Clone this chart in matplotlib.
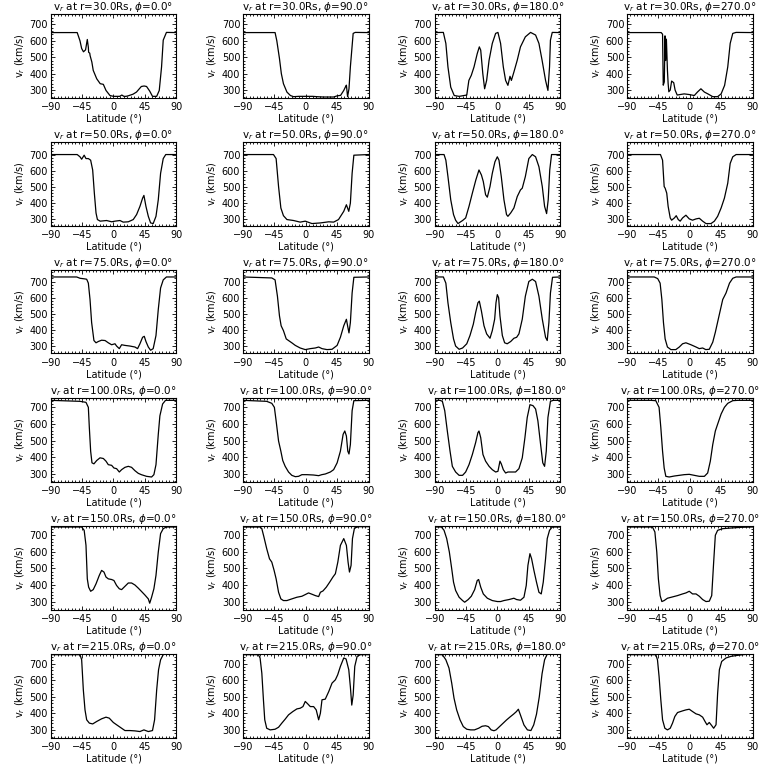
import matplotlib
matplotlib.use("Agg")
import matplotlib.pyplot as plt
from matplotlib.ticker import MultipleLocator

plt.rcParams['font.family'] = ['Liberation Sans Narrow', 'DejaVu Sans']
plt.rcParams['mathtext.fontset'] = 'dejavusans'

radii = [30.0, 50.0, 75.0, 100.0, 150.0, 215.0]
phis = [0.0, 90.0, 180.0, 270.0]
ylims = [(255, 763), (259, 778), (256, 771), (255, 756), (252, 756), (254, 759)]
xticks = [-90, -45, 0, 45, 90]
yticks = [300, 400, 500, 600, 700]

# r = 30 Rs
lat_30_0 = [-90, -52, -48, -45.6, -43, -40, -37.5, -36, -35.6, -34, -33.5, -31, -29, -24, -19, -14.5, -10.7, -5, 0, 5, 9, 12, 15, 18, 21, 28, 33, 40, 44, 47.5, 52, 56, 62, 65.7, 69, 71.4, 76, 90]
v_30_0 = [650, 650, 600, 553, 533, 545, 608, 560, 530, 525, 510, 471, 420, 369, 339, 335, 298, 267, 262, 262, 262, 270, 262, 262, 265, 275, 288, 322, 325, 322, 294, 262, 262, 298, 441, 604, 651, 650]
lat_30_90 = [-90, -44, -41.5, -37.7, -35, -32, -27, -22, -17.5, -10, 0, 10, 16, 25, 40, 45, 50, 54.5, 57, 58.3, 60, 62, 64, 68, 71, 90]
v_30_90 = [650, 650, 600, 492, 400, 339, 288, 267, 260, 262, 262, 262, 260, 258, 258, 265, 268, 298, 320, 330, 260, 308, 441, 645, 651, 650]
lat_30_180 = [-90, -77.6, -74, -71, -67, -62, -55, -48, -44, -41, -37.5, -33.6, -29, -26, -24, -21, -18.4, -15.5, -12, -7.4, -2.6, 0.7, 4.5, 8.4, 11.7, 15, 18, 20, 23.6, 28.4, 33, 40, 47.5, 54.7, 59.5, 64, 69, 72.4, 74.7, 76, 78.6, 90]
v_30_180 = [650, 651, 584, 441, 318, 267, 262, 267, 270, 359, 390, 441, 522, 563, 543, 400, 308, 359, 482, 584, 645, 651, 584, 441, 359, 329, 384, 359, 410, 482, 563, 624, 651, 635, 584, 482, 359, 298, 441, 604, 651, 650]
lat_30_270 = [-90, -41, -39, -38, -36.5, -35.5, -34.5, -33.5, -32, -31, -30, -28, -26, -23, -21, -18, -8, -0.7, 6.5, 11, 16, 21, 26, 33, 40, 45, 50, 54.5, 58, 61.7, 66.5, 90]
v_30_270 = [650, 650, 640, 330, 350, 630, 480, 610, 420, 340, 290, 300, 355, 345, 300, 270, 277, 273, 267, 288, 308, 288, 277, 260, 260, 277, 329, 441, 584, 645, 651, 650]

# r = 50 Rs
lat_50_0 = [-90, -52, -48, -45.6, -42, -39.4, -36, -32.7, -29.8, -27.4, -25, -23, -19, -9.8, -2.6, 2.2, 9.3, 14, 21.3, 28.4, 33.2, 38, 41.8, 43.7, 46.6, 50, 53.3, 57, 61, 64.3, 67.6, 71.4, 75, 90]
v_50_0 = [700, 700, 686, 671, 696, 675, 675, 665, 604, 460, 337, 296, 286, 290, 282, 286, 290, 280, 282, 296, 327, 378, 429, 446, 378, 316, 275, 271, 316, 419, 583, 675, 700, 700]
lat_50_90 = [-90, -46.3, -42.5, -39, -35.7, -32, -27, -17.5, -8, -0.7, 8.9, 21, 33, 40, 47, 54.5, 58.3, 61.7, 64, 66.5, 69, 90]
v_50_90 = [700, 700, 675, 501, 368, 320, 296, 290, 280, 286, 271, 275, 282, 280, 296, 347, 388, 347, 398, 583, 696, 700]
lat_50_180 = [-90, -76.6, -74, -71, -67, -63, -60, -56.6, -50, -45.6, -40.8, -36, -31, -26.5, -23, -20.3, -17, -14.5, -10.7, -7.4, -3.6, -0.2, 2.2, 5.5, 9.3, 13, 15, 19, 23.6, 28.4, 33, 35.6, 40, 45, 50, 54.7, 59.5, 64.3, 67.6, 70.5, 72.8, 75, 77.6, 90]
v_50_180 = [700, 700, 665, 563, 419, 327, 292, 271, 290, 306, 378, 460, 542, 604, 573, 532, 450, 435, 501, 583, 655, 686, 665, 563, 419, 327, 316, 337, 368, 439, 480, 491, 563, 675, 700, 686, 624, 501, 378, 333, 419, 604, 700, 700]
lat_50_270 = [-90, -42, -39, -36.7, -35.3, -33, -31, -28, -26, -22, -19.4, -16.5, -13.7, -10.3, -5.5, -0.7, 4, 9, 13.7, 18.5, 23.3, 30.5, 35.3, 40, 45, 49.7, 54.5, 58, 61.7, 66.5, 90]
v_50_270 = [700, 700, 665, 501, 491, 460, 378, 306, 292, 306, 320, 296, 286, 306, 323, 300, 292, 300, 304, 286, 271, 271, 286, 316, 368, 429, 522, 645, 686, 700, 700]

# r = 75 Rs
lat_75_0 = [-90, -52.7, -48, -41, -38.4, -36, -33.6, -31.3, -28, -25, -21.7, -17, -12, -7.4, -2.6, 2.2, 4.5, 8.4, 11.7, 16.5, 23.6, 30.8, 34.6, 38, 41.8, 44.2, 46.6, 50, 53.3, 57, 61, 64.3, 67.6, 71.4, 76, 90]
v_75_0 = [728, 728, 720, 716, 714, 690, 589, 447, 336, 322, 330, 338, 336, 322, 310, 316, 302, 286, 310, 306, 302, 296, 286, 316, 356, 362, 330, 296, 276, 286, 367, 528, 660, 710, 728, 728]
lat_75_90 = [-90, -48.7, -44, -40.6, -37.7, -35.3, -32, -28, -24.7, -20, -15, -8, -0.7, 6.5, 13.7, 18.5, 23.3, 30.5, 37.7, 45, 49.7, 54.5, 58.3, 60, 62, 64, 66.5, 69, 90]
v_75_90 = [728, 722, 710, 609, 488, 427, 397, 346, 336, 322, 306, 290, 280, 286, 290, 296, 286, 280, 282, 306, 356, 427, 467, 427, 383, 447, 629, 726, 728]
lat_75_180 = [-90, -77.6, -74, -71, -67, -63, -60, -55, -50, -44, -39.4, -34.6, -31.3, -28, -26, -23, -19.3, -15.5, -10.7, -7.4, -4, -2.1, -0.2, 1.7, 3.6, 7, 10.3, 14, 19, 23.6, 27.5, 30.8, 35.6, 40, 45, 50, 54.7, 59.5, 64.3, 69, 71.4, 73.8, 76, 79, 90]
v_75_180 = [728, 728, 690, 569, 447, 346, 302, 282, 290, 316, 367, 437, 508, 569, 579, 518, 427, 377, 350, 397, 468, 569, 619, 600, 488, 367, 322, 316, 330, 350, 356, 377, 468, 609, 700, 714, 700, 609, 468, 356, 336, 447, 629, 726, 728]
lat_75_270 = [-90, -51, -46, -42.5, -40, -37.7, -35.3, -32, -27, -20, -15, -10.3, -5.5, 1.7, 9, 13.7, 18.5, 23, 28, 33, 36.7, 42.5, 47.3, 52, 57, 61.7, 66.5, 90]
v_75_270 = [728, 728, 718, 690, 589, 447, 346, 296, 280, 280, 296, 316, 322, 310, 296, 286, 290, 280, 282, 326, 387, 498, 589, 629, 690, 720, 728, 728]

# r = 100 Rs
lat_100_0 = [-90, -48, -39.4, -36, -34.6, -32.7, -30.8, -28, -24, -19.3, -14.5, -10.7, -7.4, -2.6, 0.7, 4.5, 8.4, 11.7, 16.5, 21.3, 26, 30.8, 35.6, 40, 47.5, 54.7, 58, 61, 64.3, 66.6, 70.5, 74.7, 90]
v_100_0 = [742, 736, 730, 700, 579, 437, 367, 361, 381, 397, 393, 377, 356, 352, 336, 332, 312, 326, 340, 346, 340, 320, 304, 296, 286, 282, 296, 356, 538, 649, 720, 742, 742]
lat_100_90 = [-90, -56, -48.7, -45, -42.5, -39, -35.7, -33, -29.5, -24.7, -20, -15, -10.3, -5.5, 1.7, 11, 18.5, 23, 28, 35.3, 40, 45, 49.7, 53.6, 56, 58.3, 60.3, 62, 64, 66.5, 69, 90]
v_100_90 = [742, 736, 724, 700, 619, 498, 437, 381, 346, 312, 292, 284, 286, 296, 296, 294, 290, 296, 300, 312, 326, 367, 437, 538, 558, 528, 437, 420, 477, 680, 740, 742]
lat_100_180 = [-90, -82.4, -79, -75.6, -71.9, -68, -64.7, -60, -55, -50, -45.6, -40.8, -36, -31.3, -28, -26.5, -24, -20.8, -17, -12, -7.4, -2.6, 0.7, 3.6, 5.5, 8.4, 11.7, 15, 21.3, 26, 30.8, 35.6, 39.4, 42.7, 46.6, 51, 54.7, 58, 61.9, 65, 67.6, 70, 72.4, 76, 80, 90]
v_100_180 = [742, 742, 736, 680, 558, 437, 346, 312, 292, 292, 312, 356, 417, 488, 548, 558, 518, 417, 377, 346, 326, 312, 316, 377, 361, 326, 306, 312, 312, 312, 332, 397, 518, 639, 716, 710, 690, 619, 477, 367, 346, 437, 639, 736, 742, 742]
lat_100_270 = [-90, -56, -48.7, -44, -41.5, -39, -36.7, -34.3, -29.5, -22, -15, -8, -0.7, 6.5, 13.7, 21, 25.7, 29.5, 33, 36.7, 40, 45, 49.7, 54.5, 61.7, 69, 90]
v_100_270 = [742, 742, 740, 700, 579, 437, 336, 286, 282, 288, 292, 296, 298, 292, 286, 286, 306, 377, 477, 558, 599, 660, 700, 724, 740, 742, 742]

# r = 150 Rs
lat_150_0 = [-90, -45.6, -42, -39.4, -37.5, -35.6, -32.7, -29, -25, -20.3, -17, -13.6, -10.7, -7.4, -2.6, 0.7, 4.5, 8.4, 11.7, 16.5, 21.3, 26, 30.8, 35.6, 40, 45, 50, 52, 54.7, 58, 61, 64.3, 67.6, 71.4, 76, 90]
v_150_0 = [750, 750, 730, 640, 437, 387, 362, 372, 407, 458, 488, 478, 448, 437, 433, 427, 397, 377, 372, 392, 412, 412, 400, 381, 362, 340, 316, 290, 326, 377, 458, 599, 710, 740, 750, 750]
lat_150_90 = [-90, -65.5, -63, -60, -56, -52, -48.7, -45.4, -42.5, -39, -35.7, -32, -27, -20, -12.7, -5.5, -0.7, 4, 9, 13.7, 18.5, 21, 24.7, 29.5, 34.3, 39, 42.5, 46, 49.7, 54.5, 58.3, 60.7, 62.7, 65, 67, 69.9, 76, 90]
v_150_90 = [750, 750, 740, 690, 619, 558, 538, 488, 437, 356, 316, 306, 306, 316, 326, 332, 342, 352, 344, 336, 330, 356, 364, 387, 417, 448, 468, 538, 639, 680, 639, 538, 478, 518, 680, 744, 752, 752]
lat_150_180 = [-90, -80.4, -76.6, -72.8, -69, -65.6, -63, -60, -55, -50, -47, -42, -37.5, -32.7, -29, -27, -24, -20.3, -14.5, -7.4, -0.2, 4.5, 9.3, 16.5, 23.6, 27.5, 33, 38, 41.3, 43.7, 46.6, 49, 52.3, 56, 59.5, 62.8, 65.7, 69, 71.4, 74.7, 78.6, 90]
v_150_180 = [750, 750, 730, 680, 599, 498, 417, 367, 326, 306, 296, 312, 332, 372, 427, 433, 387, 346, 320, 306, 300, 300, 306, 312, 320, 312, 308, 326, 397, 518, 589, 558, 488, 417, 356, 346, 417, 558, 680, 730, 750, 750]
lat_150_270 = [-90, -53.5, -50, -47.3, -45, -42.5, -40, -36.7, -32, -24.7, -17.5, -10.3, -5.5, -0.7, 4, 9, 13.7, 18.5, 23.3, 28, 31.5, 34.3, 36.7, 40, 47.3, 59.3, 73.7, 90]
v_150_270 = [750, 750, 720, 599, 437, 336, 300, 306, 320, 328, 336, 346, 352, 362, 346, 346, 332, 312, 300, 302, 336, 538, 700, 730, 740, 744, 748, 750]

# r = 215 Rs
lat_215_0 = [-90, -48, -45.6, -43.2, -40.8, -38.4, -34.6, -29.8, -24, -17, -10.7, -6, -0.2, 4.5, 9.3, 16.5, 23.6, 30.8, 38, 43.7, 50, 56, 59, 62, 64.7, 67.6, 71.4, 76, 90]
v_215_0 = [755, 755, 724, 542, 421, 361, 341, 336, 351, 367, 377, 371, 345, 331, 317, 296, 296, 294, 290, 300, 290, 296, 361, 542, 664, 724, 755, 762, 762]
lat_215_90 = [-90, -68, -65.5, -63, -60.7, -58.8, -56, -51, -44, -39, -34.3, -29.5, -24.7, -18.5, -12.7, -8, -4, -0.7, 2.7, 6.5, 11.3, 15, 18.5, 21, 23.3, 28, 33, 37.7, 42.5, 45.8, 49.7, 54.5, 57.8, 61.7, 64, 66, 68, 70.3, 73.7, 78.5, 90]
v_215_90 = [755, 755, 735, 643, 482, 361, 310, 300, 304, 316, 341, 365, 391, 411, 427, 431, 441, 472, 458, 441, 441, 421, 361, 401, 482, 486, 532, 583, 603, 633, 684, 735, 729, 664, 560, 450, 510, 684, 745, 755, 755]
lat_215_180 = [-90, -79, -74, -69.5, -65.6, -62.3, -58.5, -53.7, -49, -44, -38.4, -33, -27, -22, -17, -13, -9, -5, -2, 3, 8, 13, 18, 23, 27, 30, 33, 38, 43, 48, 52, 56, 60, 64, 67.6, 71, 76, 90]
v_215_180 = [755, 755, 724, 674, 583, 492, 421, 361, 320, 304, 300, 300, 310, 322, 325, 320, 300, 295, 300, 320, 340, 360, 378, 395, 410, 425, 390, 330, 300, 296, 330, 395, 500, 640, 724, 755, 762, 762]
lat_215_270 = [-90, -48.7, -46.3, -44, -41.5, -39, -35.7, -32, -28, -24.7, -21.4, -17.5, -10.3, -5.5, -0.7, 4, 9, 13.7, 18.5, 21.9, 24.7, 28, 31.5, 34.3, 37.7, 40, 42.5, 45.8, 52, 59.3, 69, 76, 90]
v_215_270 = [755, 755, 724, 623, 482, 361, 310, 300, 310, 341, 381, 405, 415, 421, 425, 411, 397, 391, 377, 351, 331, 345, 326, 310, 331, 522, 664, 714, 735, 745, 751, 755, 760]

curves = [
    [(lat_30_0, v_30_0), (lat_30_90, v_30_90), (lat_30_180, v_30_180), (lat_30_270, v_30_270)],
    [(lat_50_0, v_50_0), (lat_50_90, v_50_90), (lat_50_180, v_50_180), (lat_50_270, v_50_270)],
    [(lat_75_0, v_75_0), (lat_75_90, v_75_90), (lat_75_180, v_75_180), (lat_75_270, v_75_270)],
    [(lat_100_0, v_100_0), (lat_100_90, v_100_90), (lat_100_180, v_100_180), (lat_100_270, v_100_270)],
    [(lat_150_0, v_150_0), (lat_150_90, v_150_90), (lat_150_180, v_150_180), (lat_150_270, v_150_270)],
    [(lat_215_0, v_215_0), (lat_215_90, v_215_90), (lat_215_180, v_215_180), (lat_215_270, v_215_270)],
]

fig = plt.figure(figsize=(7.68, 7.68), dpi=100)
W = 768.0
lefts = [50.7, 243, 434.7, 627]
fs = 7

for i, r in enumerate(radii):
    for j, phi in enumerate(phis):
        top = 14 + 128 * i
        ax = fig.add_axes([lefts[j] / W, 1 - (top + 83.5) / W, 125.5 / W, 83.5 / W])
        lat, v = curves[i][j]
        ax.plot(lat, v, color='black', lw=0.9)
        ax.set_xlim(-90, 90)
        ax.set_ylim(*ylims[i])
        ax.set_xticks(xticks)
        ax.set_yticks(yticks)
        ax.xaxis.set_minor_locator(MultipleLocator(5))
        ax.yaxis.set_minor_locator(MultipleLocator(20))
        ax.tick_params(which='both', direction='in', top=True, right=True,
                       labelsize=fs, width=0.6, color='black')
        ax.tick_params(which='major', length=3)
        ax.tick_params(which='minor', length=1.5)
        ax.tick_params(axis='y', pad=2)
        ax.tick_params(axis='x', pad=3)
        for s in ax.spines.values():
            s.set_linewidth(0.8)
        ax.set_title("v$_r$ at r=%.1fRs, $\\phi$=%.1f°" % (r, phi), fontsize=fs + 0.5, pad=3)
        ax.set_xlabel("Latitude (°)", fontsize=fs, labelpad=1)
        ax.set_ylabel("v$_r$ (km/s)", fontsize=fs, labelpad=2)

fig.savefig("out.png", dpi=100, facecolor='white')
